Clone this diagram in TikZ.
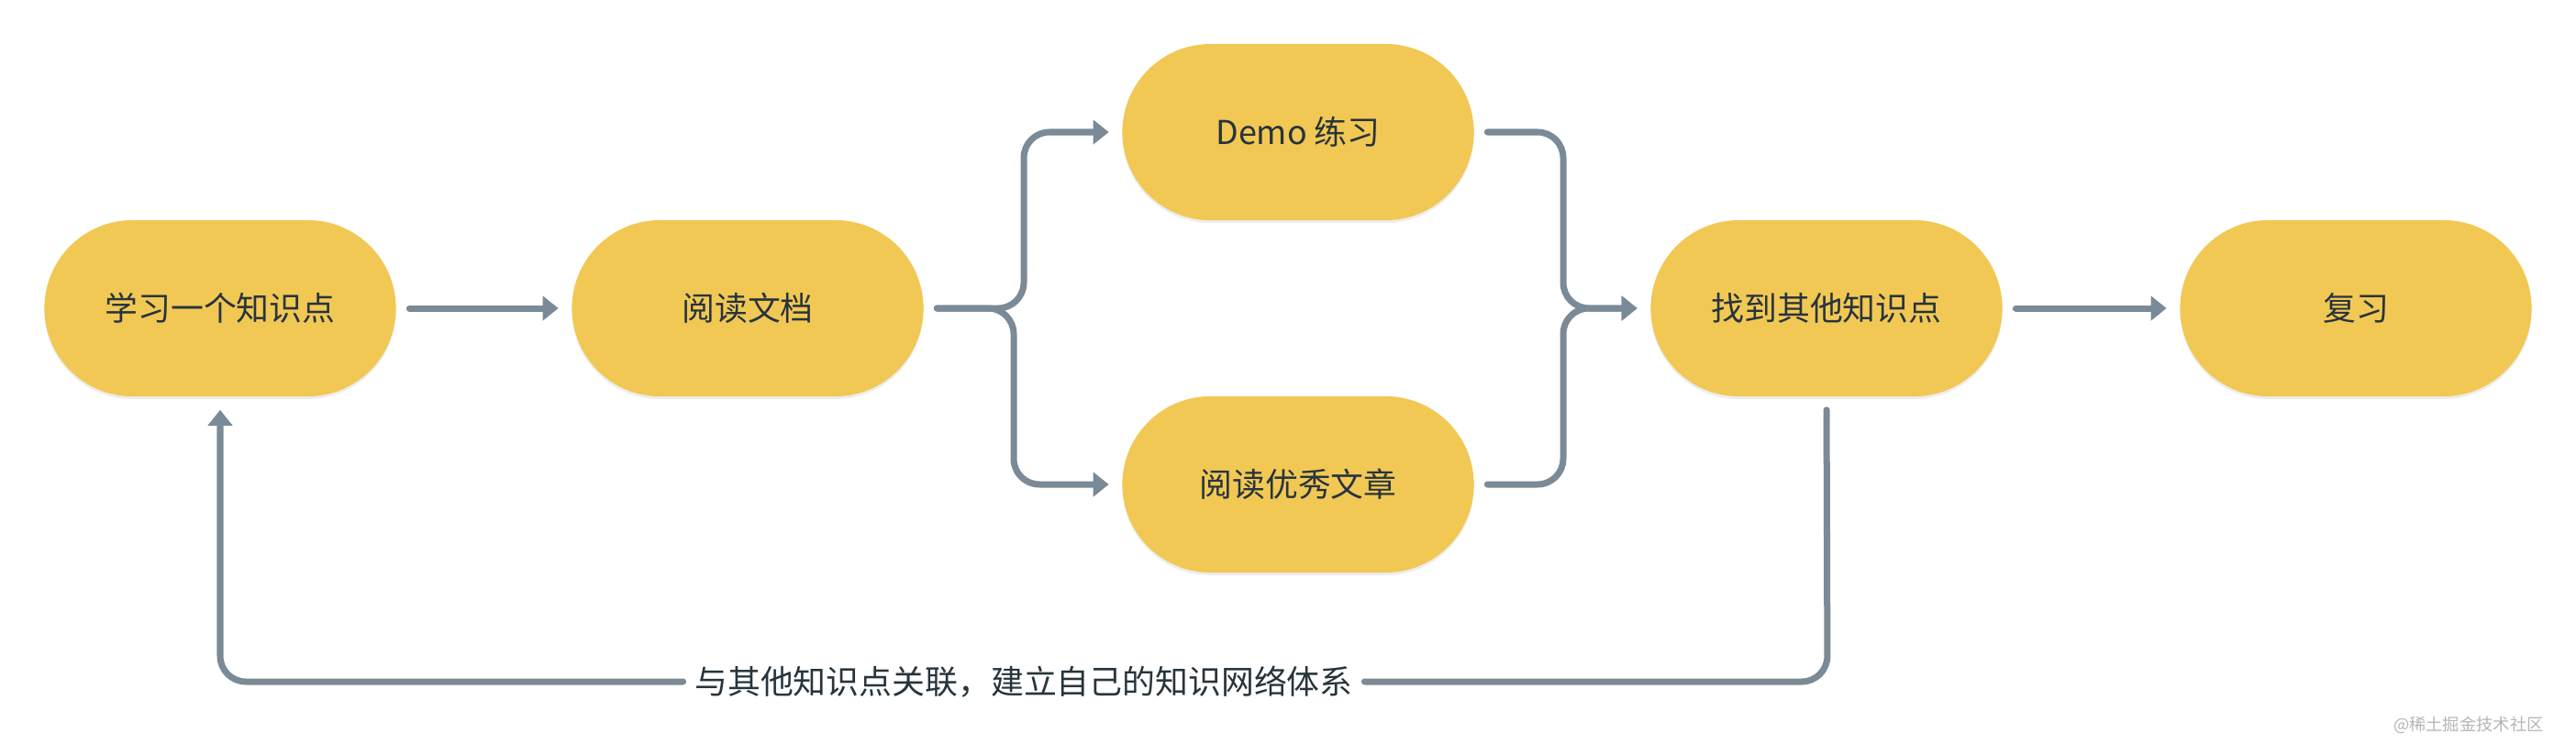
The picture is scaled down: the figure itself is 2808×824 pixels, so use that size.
\documentclass[tikz,border=0pt]{standalone}
\usepackage{fontspec}
\setmainfont{Noto Sans CJK SC}
\usetikzlibrary{arrows.meta,shadows}
\definecolor{boxfill}{HTML}{F2C855}
\definecolor{linegray}{HTML}{7A8A96}
\definecolor{dtext}{HTML}{27343C}
\definecolor{wmark}{HTML}{B5B5B5}
\tikzset{
  flowbox/.style={fill=boxfill, text=dtext, inner sep=0pt,
    minimum width=3.83cm, minimum height=1.92cm, rounded corners=0.96cm,
    font=\fontsize{10.2pt}{12pt}\selectfont,
    drop shadow={shadow xshift=0pt, shadow yshift=-0.03cm, fill=black, opacity=0.07}},
  flowline/.style={linegray, line width=0.07cm, line cap=round, rounded corners=0.28cm,
    -{Triangle[length=0.17cm,width=0.26cm]}, shorten <=0.14cm, shorten >=0.14cm},
  looplabel/.style={text=dtext, inner xsep=0pt, inner ysep=0pt,
    font=\fontsize{10.2pt}{12pt}\selectfont},
}
\begin{document}
\begin{tikzpicture}[x=0.01cm,y=-0.01cm]
        \useasboundingbox (0,0) rectangle (2808,824);

        % Main row
        \node[flowbox] (learn) at (240,336) {学习一个知识点};
        \node[flowbox] (readdoc) at (815,336) {阅读文档};
        \node[flowbox] (findmore) at (1991,336) {找到其他知识点};
        \node[flowbox] (review) at (2568,336) {复习};

        % Two branches
        \node[flowbox] (demo) at (1415,144) {Demo 练习};
        \node[flowbox] (readart) at (1415,528) {阅读优秀文章};

        % Bend points
        \coordinate (forkup) at (1116,336);
        \coordinate (forkdown) at (1105,336);
        \coordinate (merge) at (1704,336);
        \coordinate (loopR) at (1992,743);
        \coordinate (loopL) at (240,743);

        \draw[flowline] (learn) -- (readdoc);
        \draw[flowline] (readdoc.east) -- (forkup) |- (demo.west);
        \draw[flowline] (readdoc.east) -- (forkdown) |- (readart.west);
        \draw[flowline] (demo.east) -| (merge) -- (findmore.west);
        \draw[flowline] (readart.east) -| (merge) -- (findmore.west);
        \draw[flowline] (findmore) -- (review);

        % Feedback loop
        \path (loopR) -- node[looplabel] (looptext) {与其他知识点关联，建立自己的知识网络体系} (loopL);
        \draw[flowline,-,shorten >=0.12cm] (findmore.south) -- (loopR) -- (looptext.east);
        \draw[flowline,shorten <=0.12cm] (looptext.west) -- (loopL) -- (learn.south);

        % Watermark
        \node[anchor=east, text=wmark, font=\fontsize{5.2pt}{6pt}\selectfont] (wm) at (2785,790) {@稀土掘金技术社区};
\end{tikzpicture}
\end{document}
